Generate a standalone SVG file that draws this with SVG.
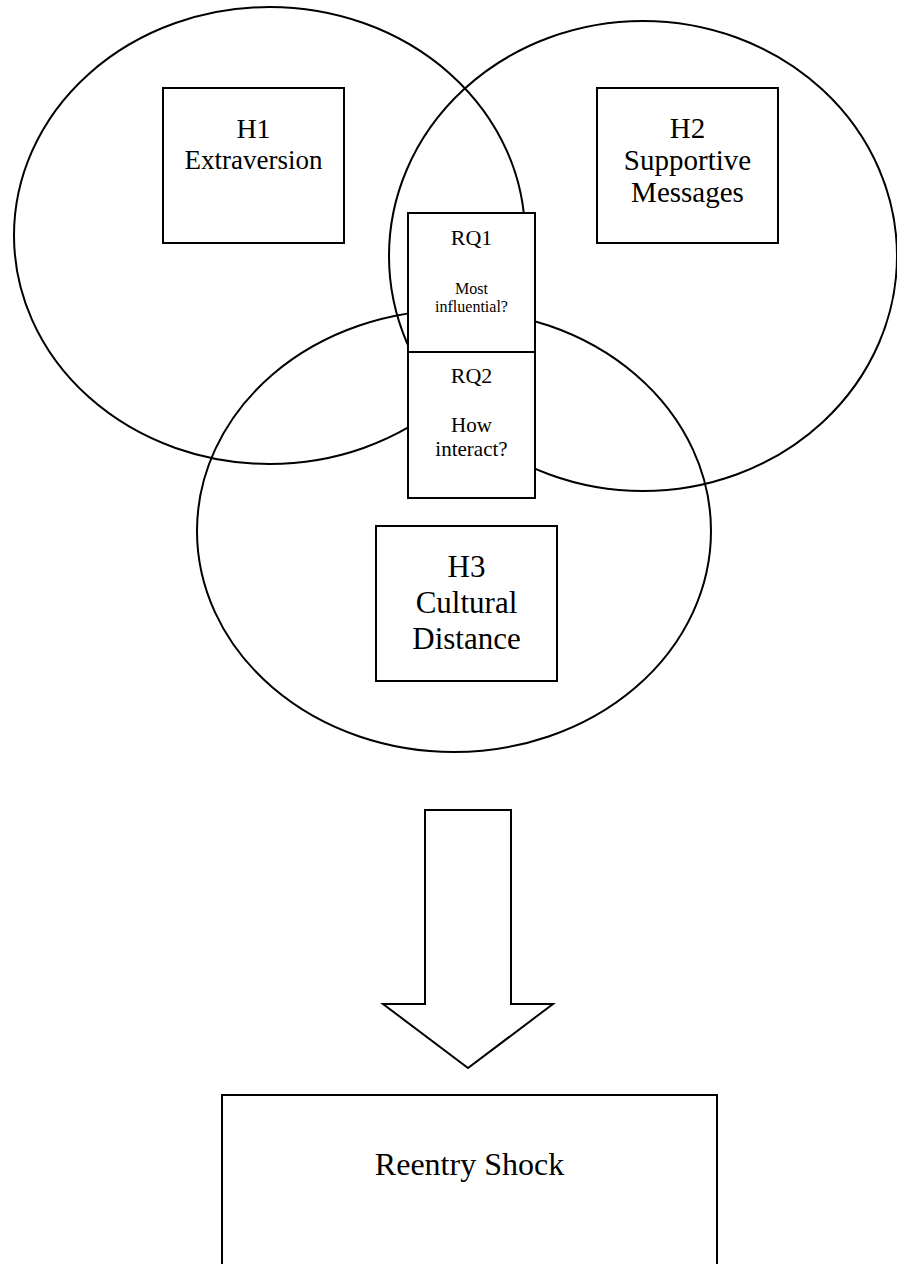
<svg xmlns="http://www.w3.org/2000/svg" width="897" height="1264" viewBox="0 0 897 1264">
<style>
.c{fill:none;stroke:#000;stroke-width:2}
.b{fill:#fff;stroke:#000;stroke-width:2}
text{font-family:"Liberation Serif","Times New Roman",serif;fill:#000;text-anchor:middle}
</style>
<rect width="897" height="1264" fill="#fff"/>
<g id="circles">
<ellipse id="circle-h1" class="c" cx="269.5" cy="235.5" rx="255.5" ry="228.5"/>
<ellipse id="circle-h2" class="c" cx="643" cy="256" rx="254" ry="235"/>
<ellipse id="circle-h3" class="c" cx="454" cy="531" rx="257" ry="221"/>
</g>
<g id="connectors">
<polygon id="arrow" class="b" points="425,810 511,810 511,1004 553,1004 468,1068 383,1004 425,1004"/>
</g>
<g id="h1">
<rect class="b" x="163" y="88" width="181" height="155"/>
<text x="253.5" y="138" font-size="28">H1</text>
<text x="253.5" y="169" font-size="27">Extraversion</text>
</g>
<g id="h2">
<rect class="b" x="597" y="88" width="181" height="155"/>
<text x="687.5" y="138" font-size="29">H2</text>
<text x="687.5" y="170" font-size="29">Supportive</text>
<text x="687.5" y="202" font-size="29">Messages</text>
</g>
<g id="rq1">
<rect class="b" x="408" y="213" width="127" height="139"/>
<text x="471.5" y="245" font-size="22">RQ1</text>
<text x="471.5" y="294" font-size="16">Most</text>
<text x="471.5" y="312" font-size="16">influential?</text>
</g>
<g id="rq2">
<rect class="b" x="408" y="352" width="127" height="146"/>
<text x="471.5" y="383" font-size="22">RQ2</text>
<text x="471.5" y="432" font-size="21">How</text>
<text x="471.5" y="456" font-size="21">interact?</text>
</g>
<g id="h3">
<rect class="b" x="376" y="526" width="181" height="155"/>
<text x="466.5" y="577" font-size="31">H3</text>
<text x="466.5" y="613" font-size="31">Cultural</text>
<text x="466.5" y="649" font-size="31">Distance</text>
</g>
<g id="reentry">
<rect class="b" x="222" y="1095" width="495" height="180"/>
<text x="469.5" y="1175" font-size="32">Reentry Shock</text>
</g>
</svg>
